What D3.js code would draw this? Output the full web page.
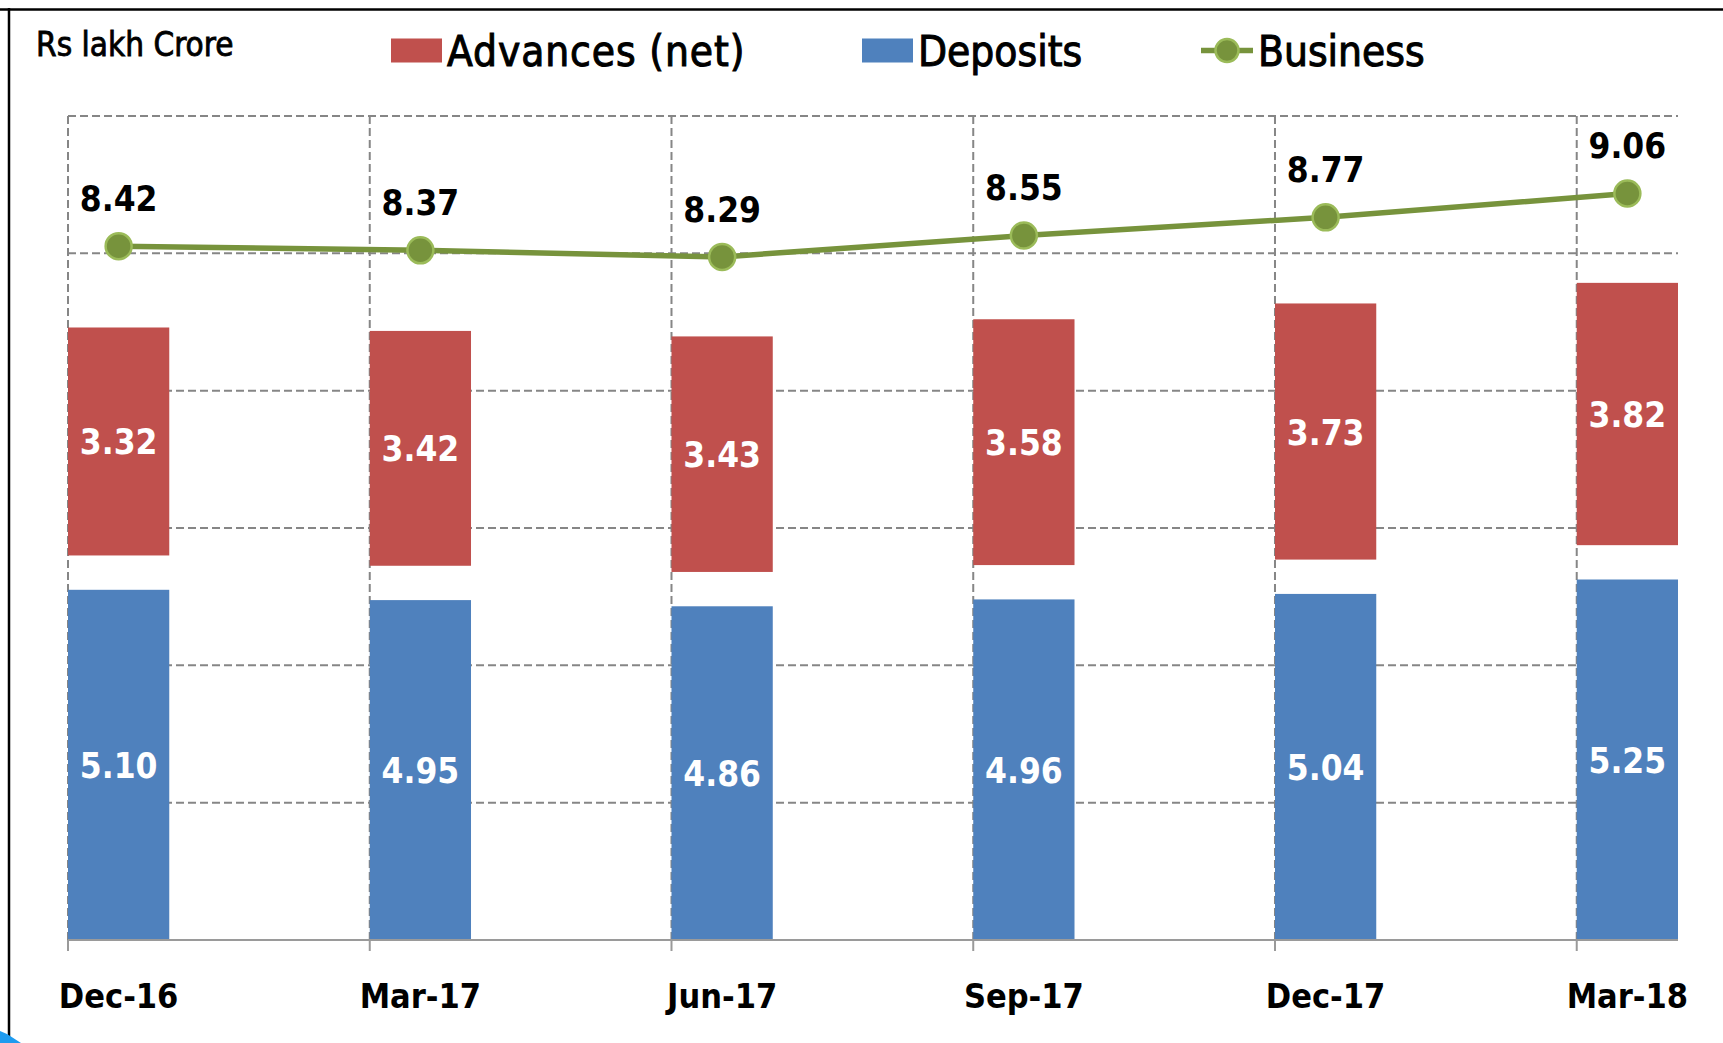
<!DOCTYPE html>
<html>
<head>
<meta charset="utf-8">
<script src="https://cdn.jsdelivr.net/npm/d3@7/dist/d3.min.js"></script>
<style>
  html, body { margin: 0; padding: 0; background: #ffffff; }
  svg { display: block; }
  text { font-family: "DejaVu Sans Condensed", "DejaVu Sans", sans-serif; font-stretch: condensed; }
</style>
</head>
<body>
<svg id="chart" width="1723" height="1043"></svg>
<script>
// ---- data ----
const categories = ["Dec-16", "Mar-17", "Jun-17", "Sep-17", "Dec-17", "Mar-18"];
const deposits   = [5.10, 4.95, 4.86, 4.96, 5.04, 5.25];
const spacer     = [0.5, 0.5, 0.5, 0.5, 0.5, 0.5];   // invisible gap series between stacks
const advances   = [3.32, 3.42, 3.43, 3.58, 3.73, 3.82];
const business   = [8.42, 8.37, 8.29, 8.55, 8.77, 9.06];
const leftTicks  = [0, 2, 4, 6, 8, 10, 12];
const unitLabel  = "Rs lakh Crore";
const legendItems = ["Advances (net)", "Deposits", "Business"];

// ---- layout ----
const W = 1723, H = 1043;
const plot = { left: 68, right: 1678, top: 116, bottom: 940 };
const colors = { adv: "#C0504D", dep: "#4F81BD", line: "#77933C", markerEdge: "#9BBB59", grid: "#868686" };

const svg = d3.select("#chart");

const x = d3.scaleBand().domain(categories)
  .range([plot.left, plot.right]).paddingInner(0.6644).paddingOuter(0).align(0);
const yL = d3.scaleLinear().domain([0, 12]).range([plot.bottom, plot.top]);
const yR = d3.scaleLinear().domain([0, 10]).range([plot.bottom, plot.top]);
const bw = x.bandwidth();

// frame
svg.append("line").attr("x1", 0).attr("x2", W).attr("y1", 9.5).attr("y2", 9.5)
  .attr("stroke", "#000").attr("stroke-width", 2.5);
svg.append("line").attr("x1", 9).attr("x2", 9).attr("y1", 8).attr("y2", H)
  .attr("stroke", "#000").attr("stroke-width", 2.5);
svg.append("path").attr("d", "M0,1031 L7,1034 L21,1043 L0,1043 Z").attr("fill", "#1E9BEF");

// horizontal gridlines
const gGrid = svg.append("g");
gGrid.selectAll("line.h").data(leftTicks.filter(t => t > 0)).join("line")
  .attr("x1", plot.left).attr("x2", plot.right)
  .attr("y1", d => yL(d)).attr("y2", d => yL(d))
  .attr("stroke", colors.grid).attr("stroke-width", 2).attr("stroke-dasharray", "8,4");
// vertical gridlines at category starts
gGrid.selectAll("line.v").data(categories).join("line")
  .attr("x1", d => x(d)).attr("x2", d => x(d))
  .attr("y1", plot.top).attr("y2", plot.bottom)
  .attr("stroke", colors.grid).attr("stroke-width", 2).attr("stroke-dasharray", "8,4");

// stacked bars
const rows = categories.map((c, i) => ({ cat: c, dep: deposits[i], gap: spacer[i], adv: advances[i] }));
const stack = d3.stack().keys(["dep", "gap", "adv"])(rows);
const fills = { dep: colors.dep, gap: "none", adv: colors.adv };
stack.forEach(layer => {
  svg.append("g").selectAll("rect").data(layer).join("rect")
    .attr("x", d => x(d.data.cat)).attr("width", bw)
    .attr("y", d => yL(d[1])).attr("height", d => yL(d[0]) - yL(d[1]))
    .attr("fill", fills[layer.key]);
});

// bar labels
const labelFont = 35;
svg.append("g").selectAll("text").data(stack[0]).join("text")
  .attr("x", d => x(d.data.cat) + bw / 2)
  .attr("y", d => (yL(d[0]) + yL(d[1])) / 2 + 13)
  .attr("text-anchor", "middle").attr("fill", "#fff")
  .attr("font-size", labelFont).attr("font-weight", "bold")
  .text(d => d.data.dep.toFixed(2));
svg.append("g").selectAll("text").data(stack[2]).join("text")
  .attr("x", d => x(d.data.cat) + bw / 2)
  .attr("y", d => (yL(d[0]) + yL(d[1])) / 2 + 13)
  .attr("text-anchor", "middle").attr("fill", "#fff")
  .attr("font-size", labelFont).attr("font-weight", "bold")
  .text(d => d.data.adv.toFixed(2));

// x axis
const xAxis = d3.axisBottom(x).tickSize(0).tickFormat("");
const gx = svg.append("g").attr("transform", `translate(0,${plot.bottom})`).call(xAxis);
gx.select(".domain").remove();
gx.append("line").attr("x1", plot.left).attr("x2", plot.right).attr("y1", 0).attr("y2", 0)
  .attr("stroke", "#9a9a9a").attr("stroke-width", 2);
gx.selectAll("line.tk").data(categories).join("line").attr("class", "tk")
  .attr("x1", d => x(d)).attr("x2", d => x(d)).attr("y1", 0).attr("y2", 11)
  .attr("stroke", "#9a9a9a").attr("stroke-width", 2);
svg.append("g").selectAll("text").data(categories).join("text")
  .attr("x", d => x(d) + bw / 2).attr("y", 1008)
  .attr("text-anchor", "middle").attr("font-size", 34).attr("font-weight", "bold").attr("fill", "#000")
  .text(d => d);

// business line
const cx = (c) => x(c) + bw / 2;
const line = d3.line().x((d, i) => cx(categories[i])).y(d => yR(d));
svg.append("path").datum(business).attr("d", line)
  .attr("fill", "none").attr("stroke", colors.line).attr("stroke-width", 5.5).attr("stroke-linejoin", "round");
svg.append("g").selectAll("circle").data(business).join("circle")
  .attr("cx", (d, i) => cx(categories[i])).attr("cy", d => yR(d)).attr("r", 13)
  .attr("fill", colors.line).attr("stroke", colors.markerEdge).attr("stroke-width", 2.5);
svg.append("g").selectAll("text").data(business).join("text")
  .attr("x", (d, i) => cx(categories[i])).attr("y", d => yR(d) - 35)
  .attr("text-anchor", "middle").attr("font-size", labelFont).attr("font-weight", "bold").attr("fill", "#000")
  .text(d => d.toFixed(2));

// unit label
svg.append("text").attr("x", 36).attr("y", 56).attr("font-size", 33).attr("fill", "#000")
  .attr("stroke", "#000").attr("stroke-width", 0.8)
  .text(unitLabel);

// legend
const lg = svg.append("g");
lg.append("rect").attr("x", 391).attr("y", 38.5).attr("width", 51).attr("height", 24).attr("fill", colors.adv);
lg.append("text").attr("x", 447).attr("y", 66).attr("font-size", 42).attr("fill", "#000")
  .attr("stroke", "#000").attr("stroke-width", 1).attr("letter-spacing", 0.9).text(legendItems[0]);
lg.append("rect").attr("x", 862).attr("y", 38.5).attr("width", 51).attr("height", 24).attr("fill", colors.dep);
lg.append("text").attr("x", 918).attr("y", 66).attr("font-size", 42).attr("fill", "#000")
  .attr("stroke", "#000").attr("stroke-width", 1).text(legendItems[1]);
lg.append("line").attr("x1", 1201).attr("x2", 1253).attr("y1", 50.5).attr("y2", 50.5)
  .attr("stroke", colors.line).attr("stroke-width", 5.5);
lg.append("circle").attr("cx", 1227).attr("cy", 50.5).attr("r", 11.5)
  .attr("fill", colors.line).attr("stroke", colors.markerEdge).attr("stroke-width", 2.5);
lg.append("text").attr("x", 1258).attr("y", 66).attr("font-size", 42).attr("fill", "#000")
  .attr("stroke", "#000").attr("stroke-width", 1).text(legendItems[2]);
</script>
</body>
</html>
